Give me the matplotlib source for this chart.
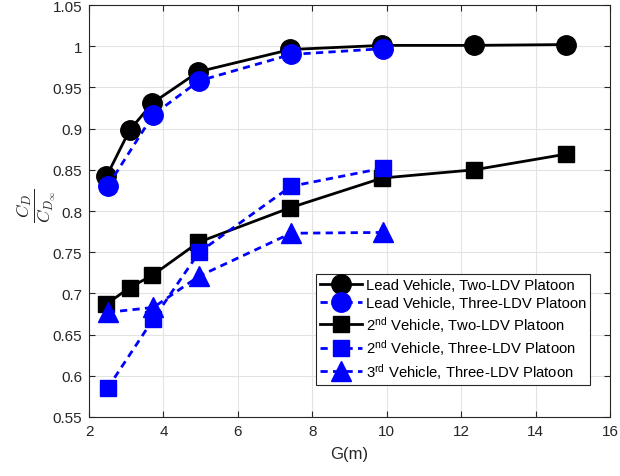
import matplotlib
matplotlib.use("Agg")
import matplotlib.pyplot as plt

plt.rcParams['font.family'] = ['Liberation Sans', 'DejaVu Sans']
plt.rcParams['mathtext.fontset'] = 'custom'
plt.rcParams['mathtext.rm'] = 'Liberation Sans'
plt.rcParams['mathtext.it'] = 'Liberation Sans:italic'
plt.rcParams['mathtext.bf'] = 'Liberation Sans:bold'

# Gap distances (m)
g_two = [2.47, 3.09, 3.705, 4.94, 7.41, 9.88, 12.35, 14.82]
g_three = [2.5, 3.73, 4.96, 7.43, 9.9]

lead_two = [0.842, 0.898, 0.931, 0.969, 0.996, 1.001, 1.001, 1.002]
lead_three = [0.830, 0.917, 0.958, 0.990, 0.997]
second_two = [0.687, 0.707, 0.722, 0.762, 0.804, 0.840, 0.850, 0.869]
second_three = [0.585, 0.669, 0.750, 0.830, 0.852]
third_three = [0.677, 0.683, 0.721, 0.773, 0.774]

labels = ['Lead Vehicle, Two-LDV Platoon',
          'Lead Vehicle, Three-LDV Platoon',
          r'2$^{\mathrm{nd}}$ Vehicle, Two-LDV Platoon',
          r'2$^{\mathrm{nd}}$ Vehicle, Three-LDV Platoon',
          r'3$^{\mathrm{rd}}$ Vehicle, Three-LDV Platoon']

xticks = [2, 4, 6, 8, 10, 12, 14, 16]
yticks = [0.55, 0.6, 0.65, 0.7, 0.75, 0.8, 0.85, 0.9, 0.95, 1.0, 1.05]
yticklabels = ['0.55', '0.6', '0.65', '0.7', '0.75', '0.8', '0.85', '0.9', '0.95', '1', '1.05']

fig = plt.figure(figsize=(6.2, 4.77), dpi=100)
ax = fig.add_axes([89/620, 1-418/477, (610-89)/620, (418-6)/477])

lw = 2.0
dash = (2.6, 1.9)
ax.plot(g_two, lead_two, '-', color='black', lw=lw, marker='o', ms=14, label=labels[0], zorder=3)
ax.plot(g_three, lead_three, '--', color='blue', lw=lw, dashes=dash, marker='o', ms=14, label=labels[1], zorder=4)
ax.plot(g_two, second_two, '-', color='black', lw=lw, marker='s', ms=11, label=labels[2], zorder=3)
ax.plot(g_three, second_three, '--', color='blue', lw=lw, dashes=dash, marker='s', ms=11, label=labels[3], zorder=4)
ax.plot(g_three, third_three, '--', color='blue', lw=lw, dashes=dash, marker='^', ms=14.5, label=labels[4], zorder=4)

ax.set_xlim(2, 16)
ax.set_ylim(0.55, 1.05)
ax.set_xticks(xticks)
ax.set_xticklabels([str(t) for t in xticks])
ax.set_yticks(yticks)
ax.set_yticklabels(yticklabels)

ax.grid(True, color='#e3e3e3', lw=0.8)
ax.set_axisbelow(True)
for s in ax.spines.values():
    s.set_color('#262626')
    s.set_linewidth(0.8)
ax.tick_params(direction='in', top=True, right=True, labelsize=11, colors='#262626',
               length=4, width=0.8, pad=5)

ax.set_xlabel('G(m)', fontsize=12, color='#262626', labelpad=6)
ax.set_ylabel(r'$\dfrac{C_D}{C_{D_\infty}}$', fontsize=12.5, color='#262626', labelpad=0,
              math_fontfamily='cm')
ax.yaxis.set_label_coords(-0.06, 0.515)

leg = ax.legend(loc='lower right', bbox_to_anchor=(0.9625, 0.077), fontsize=10.7,
                frameon=True, fancybox=False, edgecolor='#262626', framealpha=1,
                handlelength=2.8, handletextpad=0.25, borderpad=0.3, labelspacing=0.25,
                borderaxespad=0)
leg.get_frame().set_linewidth(0.8)

fig.savefig('out.png', dpi=100)
